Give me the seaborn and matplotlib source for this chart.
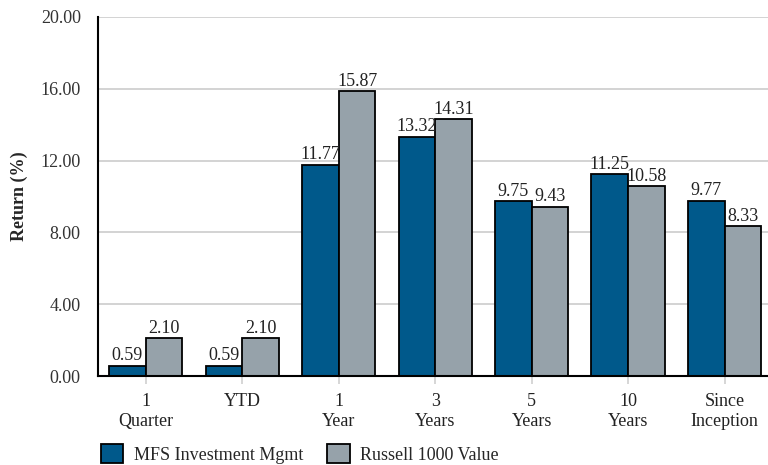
import matplotlib
matplotlib.use("Agg")
import matplotlib.pyplot as plt
import seaborn as sns
import pandas as pd
from matplotlib.patches import Patch

periods = ["1\nQuarter", "YTD", "1\nYear", "3\nYears", "5\nYears", "10\nYears", "Since\nInception"]
mfs_returns = [0.59, 0.59, 11.77, 13.32, 9.75, 11.25, 9.77]
russell_returns = [2.10, 2.10, 15.87, 14.31, 9.43, 10.58, 8.33]
series_names = ["MFS Investment Mgmt", "Russell 1000 Value"]
y_ticks = [0, 4, 8, 12, 16, 20]

colors = ["#00598B", "#96A2AA"]

df = pd.DataFrame({
    "Period": periods * 2,
    "Return": mfs_returns + russell_returns,
    "Series": [series_names[0]] * len(periods) + [series_names[1]] * len(periods),
})

sns.set_theme(style="white")
plt.rcParams["font.family"] = ["Liberation Serif", "DejaVu Serif"]

fs = 13

fig = plt.figure(figsize=(7.68, 4.65), dpi=100)
ax = fig.add_axes([0.127, 0.191, 0.873, 0.773])

sns.barplot(data=df, x="Period", y="Return", hue="Series", palette=colors,
            width=0.76, edgecolor="black", linewidth=1.3, saturation=1,
            ax=ax, legend=False, zorder=3)

for cont in ax.containers:
    ax.bar_label(cont, fmt="%.2f", padding=1, fontsize=fs, color="#222222")

ax.set_ylim(0, 20)
ax.set_xlim(-0.5, 6.45)
ax.set_yticks(y_ticks)
ax.set_yticklabels([f"{v:.2f}" for v in y_ticks], fontsize=fs, color="#333333")
ax.tick_params(axis="y", length=0, pad=12)
ax.tick_params(axis="x", length=6, width=1.2, color="#d0d0d0", labelsize=fs,
               labelcolor="#222222", pad=6, direction="out", bottom=True)
for lbl in ax.get_xticklabels():
    lbl.set_linespacing(1.25)
ax.yaxis.grid(True, color="#cccccc", linewidth=1.2, zorder=0)
ax.set_axisbelow(True)
ax.set_xlabel("")
ax.set_ylabel("Return (%)", fontsize=fs, fontweight="bold")
ax.yaxis.set_label_coords(-0.104, 0.5)

for side in ["top", "right"]:
    ax.spines[side].set_visible(False)
for side in ["left", "bottom"]:
    ax.spines[side].set_color("black")
    ax.spines[side].set_linewidth(1.5)
    ax.spines[side].set_zorder(5)

handles = [Patch(facecolor=c, edgecolor="black", linewidth=1.3) for c in colors]
fig.legend(handles, series_names, loc="lower left", bbox_to_anchor=(0.11, -0.032),
           ncol=2, frameon=False, fontsize=fs, handlelength=1.25, handleheight=1.25,
           columnspacing=1.3, handletextpad=0.6)

fig.savefig("out.png", dpi=100)
